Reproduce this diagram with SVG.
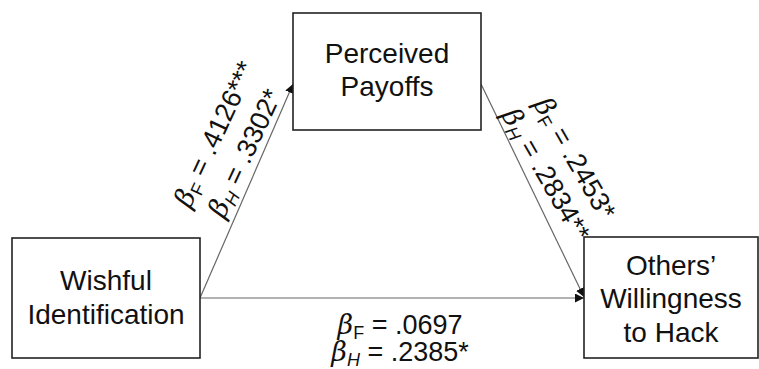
<svg xmlns="http://www.w3.org/2000/svg" width="759" height="369" viewBox="0 0 759 369">
<defs>
<style>
.box{fill:#fff;stroke:#222;stroke-width:1.6}
.t{font-family:"Liberation Sans",Arial,sans-serif;font-size:28px;fill:#111;text-anchor:middle}
.l{font-family:"Liberation Sans",Arial,sans-serif;font-size:27px;fill:#111;text-anchor:middle}
.b{font-family:"DejaVu Serif","Liberation Serif",serif;font-style:italic;font-size:27px}
.s{font-size:18px}
.si{font-size:18px;font-style:italic}
.c{stroke:#666;stroke-width:1.2;fill:none;marker-end:url(#ah)}
</style>
<marker id="ah" viewBox="0 0 10 10" refX="10" refY="5" markerWidth="9" markerHeight="9" markerUnits="userSpaceOnUse" orient="auto">
<path d="M0,0 L10,5 L0,10 z" fill="#111"/>
</marker>
</defs>
<rect width="759" height="369" fill="#fff"/>
<g id="connectors">
<line class="c" x1="200" y1="298" x2="293" y2="84"/>
<line class="c" x1="481" y1="84" x2="584" y2="297"/>
<line class="c" x1="200" y1="298" x2="584" y2="298"/>
</g>
<g id="node-payoffs">
<rect class="box" x="293" y="13" width="188" height="117"/>
<text class="t" x="387" y="63">Perceived</text>
<text class="t" x="387" y="96">Payoffs</text>
</g>
<g id="node-wishful">
<rect class="box" x="12" y="238" width="188" height="120"/>
<text class="t" x="106" y="290">Wishful</text>
<text class="t" x="106" y="324">Identification</text>
</g>
<g id="node-others">
<rect class="box" x="584" y="237" width="174" height="121"/>
<text class="t" x="671" y="275">Others’</text>
<text class="t" x="671" y="308">Willingness</text>
<text class="t" x="671" y="342">to Hack</text>
</g>
<g id="labels">
<text class="l" transform="translate(223,138) rotate(-65)"><tspan class="b">β</tspan><tspan class="s" dy="5">F</tspan><tspan dy="-5"> = .4126***</tspan></text>
<text class="l" transform="translate(253,157) rotate(-65)"><tspan class="b">β</tspan><tspan class="si" dy="5">H</tspan><tspan dy="-5"> = .3302*</tspan></text>
<text class="l" transform="translate(567,163) rotate(60)"><tspan class="b">β</tspan><tspan class="s" dy="5">F</tspan><tspan dy="-5"> = .2453*</tspan></text>
<text class="l" transform="translate(538,179) rotate(60)"><tspan class="b">β</tspan><tspan class="si" dy="5">H</tspan><tspan dy="-5"> = .2834**</tspan></text>
<text class="l" x="400" y="334"><tspan class="b">β</tspan><tspan class="s" dy="5">F</tspan><tspan dy="-5"> = .0697</tspan></text>
<text class="l" x="400" y="361"><tspan class="b">β</tspan><tspan class="si" dy="5">H</tspan><tspan dy="-5"> = .2385*</tspan></text>
</g>
</svg>
